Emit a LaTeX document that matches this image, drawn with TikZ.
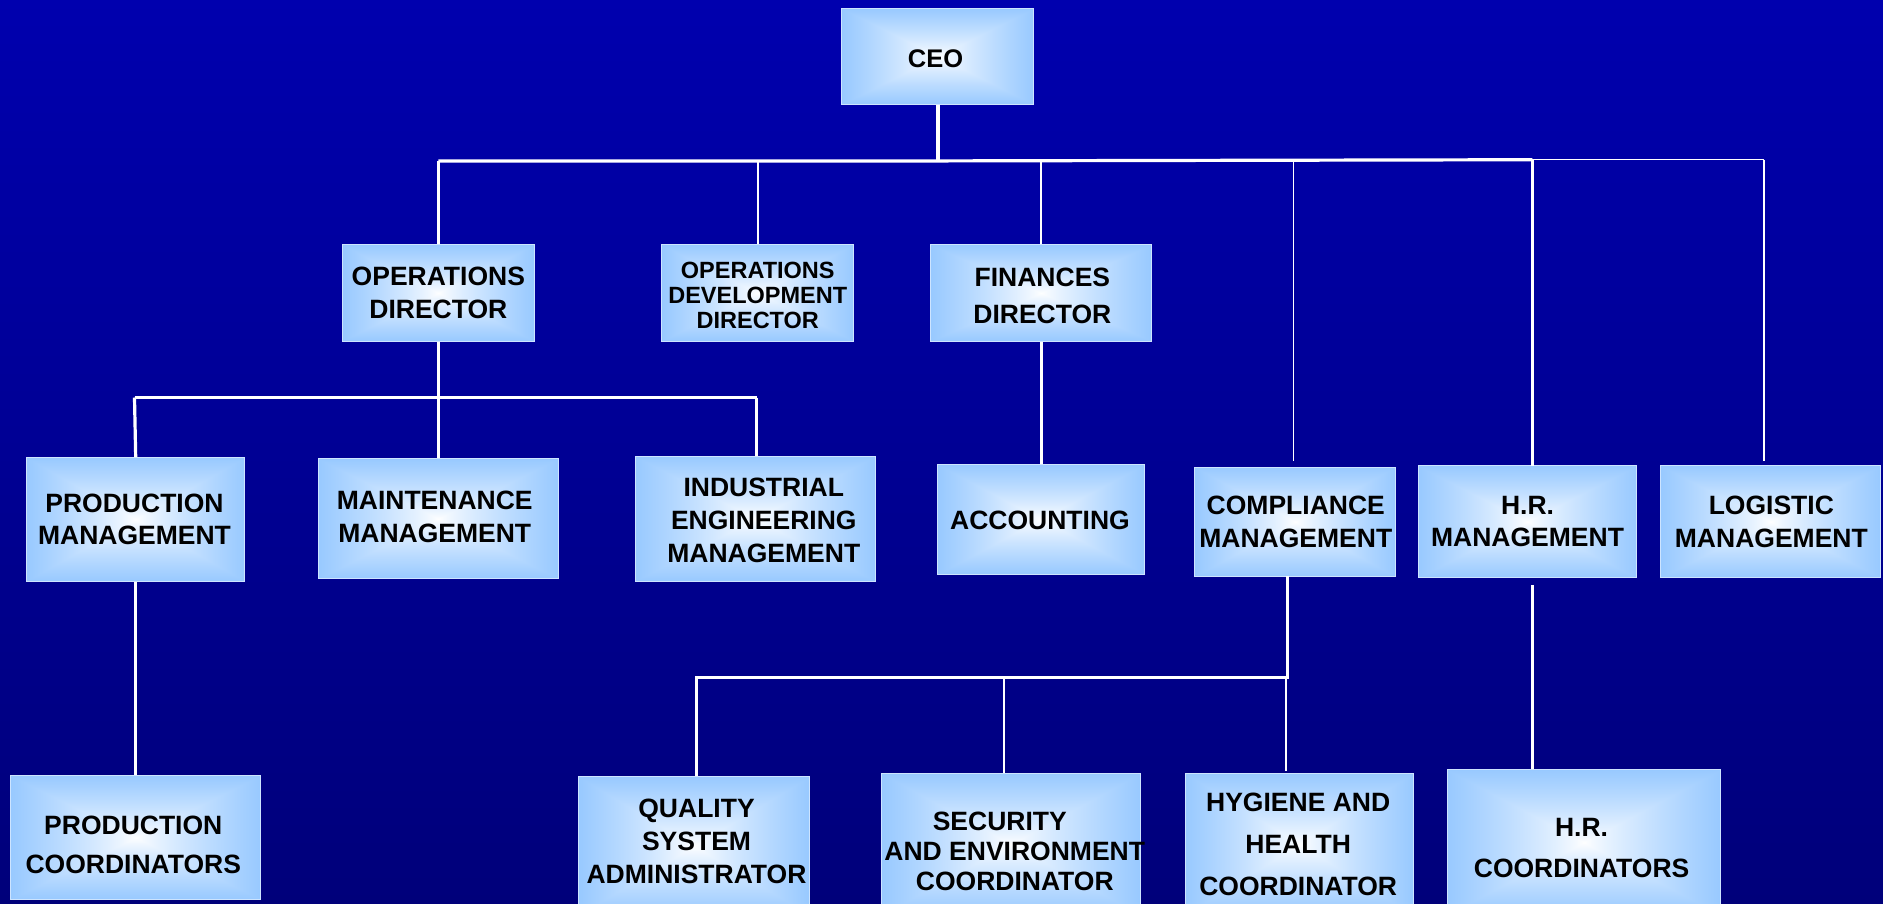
\documentclass[tikz,border=0pt]{standalone}
\usepackage{fontspec}
\setmainfont{Liberation Sans}
\usetikzlibrary{calc}
\definecolor{bgtop}{RGB}{0,0,200}
\definecolor{bgbot}{RGB}{0,0,96}
\definecolor{boxedge}{RGB}{205,228,255}
\pgfdeclareverticalshading{bgshade}{100bp}{color(0bp)=(bgbot); color(100bp)=(bgtop)}
\pgfdeclarefunctionalshading{glow}{\pgfpoint{-50bp}{-50bp}}{\pgfpoint{50bp}{50bp}}{}{abs exch abs 2 copy lt {exch} if pop 50 div 1.9 mul dup 1 gt {pop 1} if 0.8 exp dup 0.42 mul 1 exch sub exch 0.22 mul 1 exch sub 1}
\newcommand\obox[6][]{%
  \pgfmathsetmacro\obcx{(#3+#5)/2}%
  \pgfmathsetmacro\obcy{(#4+#6)/2}%
  \pgfmathsetmacro\obw{(#5-#3)*1.2009}%
  \pgfmathsetmacro\obh{(#6-#4)*1.2009}%
  \node[orgbox,minimum width=\obw pt,minimum height=\obh pt,#1] (#2) at (\obcx,\obcy) {};}
\tikzset{
  orgbox/.style={shade, shading=glow, draw=boxedge, line width=1pt, inner sep=0pt},
  lbl/.style 2 args={align=center, text=black, inner sep=0pt, font=\bfseries\fontsize{#1}{#2}\selectfont},
  thickln/.style={draw=white, line width=3.2pt},
  thinln/.style={draw=white, line width=1.5pt},
}
\begin{document}
\begin{tikzpicture}[x=1.2009pt,y=-1.2009pt]
\useasboundingbox (0,0) rectangle (1568,752);
\shade[shading=bgshade] (0,0) rectangle (1568,752);
% boxes
\obox{ceo}{701}{7}{861}{87}
\obox{opsdir}{285}{204}{445}{284}
\obox{opsdev}{551}{204}{711}{284}
\obox{fin}{775}{204}{959}{284}
\obox{prodm}{22}{381}{204}{484}
\obox{maint}{265}{382}{465}{482}
\obox{indeng}{529}{380}{729}{484}
\obox{acct}{781}{387}{953}{478}
\obox{comp}{995}{389}{1162}{480}
\obox{hrm}{1181}{388}{1363}{481}
\obox{logm}{1383}{388}{1566}{481}
\obox{prodc}{9}{646}{217}{749}
\obox{qual}{482}{647}{674}{762}
\obox{secu}{734}{644}{950}{762}
\obox{hyg}{987}{644}{1177}{762}
\obox{hrc}{1205}{641}{1433}{762}
% labels
\node[lbl={25.5}{30}] (ceo-t) at (779,49) {CEO};
\node[lbl={26.5}{33.6}] (opsdir-t) at (365,244) {OPERATIONS\\DIRECTOR};
\node[lbl={23.5}{25}] (opsdev-t) at (631,246) {OPERATIONS\\DEVELOPMENT\\DIRECTOR};
\node[lbl={26.5}{37}] (fin-t) at (868,246.5) {FINANCES\\DIRECTOR};
\node[lbl={26.5}{32.4}] (prodm-t) at (112,432.5) {PRODUCTION\\MANAGEMENT};
\node[lbl={26.5}{32.4}] (maint-t) at (362,430.5) {MAINTENANCE\\MANAGEMENT};
\node[lbl={26.5}{33}] (indeng-t) at (636,433.5) {INDUSTRIAL\\ENGINEERING\\MANAGEMENT};
\node[lbl={26.5}{32}] (acct-t) at (866,433) {ACCOUNTING};
\node[lbl={26.5}{32.4}] (comp-t) at (1079,434.5) {COMPLIANCE\\MANAGEMENT};
\node[lbl={26.5}{32.4}] (hrm-t) at (1272,434.5) {H.R.\\MANAGEMENT};
\node[lbl={26.5}{32.4}] (logm-t) at (1475,434.5) {LOGISTIC\\MANAGEMENT};
\node[lbl={26.5}{39.6}] (prodc-t) at (111,703.5) {PRODUCTION\\COORDINATORS};
\node[lbl={26.5}{33}] (qual-t) at (580,700.5) {QUALITY\\SYSTEM\\ADMINISTRATOR};
\node[lbl={26.5}{30}] (secu-t) at (845,709) {SECURITY\hspace*{30pt}\\AND ENVIRONMENT\\COORDINATOR};
\node[lbl={26.5}{42}] (hyg-t) at (1081,703) {HYGIENE AND\\HEALTH\\COORDINATOR};
\node[lbl={26.5}{41}] (hrc-t) at (1317,706) {H.R.\\COORDINATORS};
% CEO level connectors
\coordinate (bL) at (365,134);
\coordinate (bC) at (781,134);
\coordinate (bR) at (1276,133);
\coordinate (bE) at (1469,133);
\coordinate (dComp) at (1077,384);
\coordinate (dHR) at (1276,388);
\coordinate (dLog) at (1469,384);
\draw[thickln] (ceo.south) -- (bC);
\draw[thickln] (bL) -- (bC) -- (bR);
\draw[thinln] (bR) -- (bE);
\draw[thickln] (bL) -- (opsdir.north);
\draw[thinln] (opsdev.north |- bC) -- (opsdev.north);
\draw[thinln] (fin.north |- bC) -- (fin.north);
\draw[thinln] (dComp |- bC) -- (dComp);
\draw[thickln] (bR) -- (dHR);
\draw[thinln] (bE) -- (dLog);
% operations director
\coordinate (oBus) at (365,331);
\coordinate (oL) at (112,331);
\coordinate (oR) at (630,331);
\draw[thickln] (opsdir.south) -- (oBus);
\draw[thickln] (oL) -- (oR);
\draw[thickln] (oL) -- (prodm.north);
\draw[thickln] (oBus) -- (maint.north);
\draw[thickln] (oR) -- (oR |- indeng.north);
% finances
\draw[thickln] (fin.south) -- (acct.north);
% production
\draw[thickln] (prodm.south) -- (prodc.north);
% compliance
\coordinate (cTop) at (1072,480);
\coordinate (cBus) at (1072,564);
\coordinate (cL) at (580,564);
\coordinate (cS) at (836,564);
\coordinate (cH) at (1071,564);
\draw[thickln] (cTop) -- (cBus) -- (cL) -- (cL |- qual.north);
\draw[thinln] (cS) -- (cS |- secu.north);
\draw[thinln] (cH) -- (1071,642);
% HR
\coordinate (hTop) at (1276,487);
\draw[thickln] (hTop) -- (hTop |- hrc.north);
\end{tikzpicture}
\end{document}
